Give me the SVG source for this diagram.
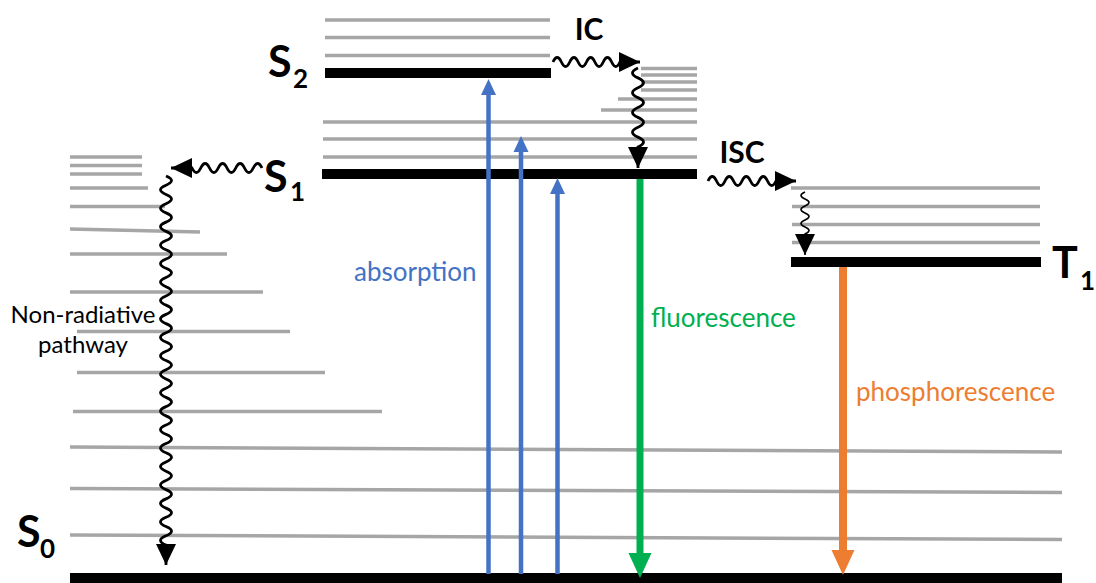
<svg xmlns="http://www.w3.org/2000/svg" width="1096" height="583" viewBox="0 0 1096 583">
  <style>
    .lvl { stroke: #A6A6A6; stroke-width: 3.5; fill: none; }
    .bar { fill: #000; }
    .wave { stroke: #000; stroke-width: 2.8; fill: none; }
    .wave-thin { stroke: #000; stroke-width: 1.6; fill: none; }
    .state { font-family: Lato, "Open Sans", sans-serif; font-weight: bold; fill: #000; }
    .big { font-size: 43px; }
    .sub { font-size: 26px; }
    .proc { font-family: Lato, "Open Sans", sans-serif; font-weight: bold; font-size: 30px; fill: #000; }
    .lab { font-family: Lato, "Open Sans", sans-serif; font-size: 26px; }
    .note { font-family: Lato, "Open Sans", sans-serif; font-size: 24px; fill: #000; text-anchor: middle; }
  </style>
  <defs>
    <!-- black heads for wavy transitions, fixed direction -->
    <marker id="headR" markerUnits="userSpaceOnUse" markerWidth="22" markerHeight="22" viewBox="0 0 22 22" refX="21" refY="11" orient="0">
      <path d="M0,1 L21,11 L0,21 z" fill="#000"/>
    </marker>
    <marker id="headD" markerUnits="userSpaceOnUse" markerWidth="22" markerHeight="22" viewBox="0 0 22 22" refX="21" refY="11" orient="90">
      <path d="M0,1 L21,11 L0,21 z" fill="#000"/>
    </marker>
    <marker id="headL" markerUnits="userSpaceOnUse" markerWidth="22" markerHeight="22" viewBox="0 0 22 22" refX="21" refY="11" orient="180">
      <path d="M0,1 L21,11 L0,21 z" fill="#000"/>
    </marker>
    <!-- heads for radiative transitions -->
    <marker id="headBlue" markerUnits="userSpaceOnUse" markerWidth="16" markerHeight="16" viewBox="0 0 16 16" refX="0" refY="8" orient="auto">
      <path d="M0,0.5 L16,8 L0,15.5 z" fill="#4472C4"/>
    </marker>
    <marker id="headGreen" markerUnits="userSpaceOnUse" markerWidth="25" markerHeight="24" viewBox="0 0 25 24" refX="0" refY="12" orient="auto">
      <path d="M0,0.5 L25,12 L0,23.5 z" fill="#00B050"/>
    </marker>
    <marker id="headOrange" markerUnits="userSpaceOnUse" markerWidth="25" markerHeight="24" viewBox="0 0 25 24" refX="0" refY="12" orient="auto">
      <path d="M0,0.5 L25,12 L0,23.5 z" fill="#ED7D31"/>
    </marker>
  </defs>

  <!-- singlet ground state S0 and its vibrational levels -->
  <g id="S0">
    <line class="lvl" x1="70" y1="157" x2="142" y2="157"/>
    <line class="lvl" x1="70" y1="165.5" x2="142" y2="165.5"/>
    <line class="lvl" x1="70" y1="174" x2="142" y2="174"/>
    <line class="lvl" x1="70" y1="188" x2="148" y2="188"/>
    <line class="lvl" x1="70" y1="206.5" x2="165" y2="206.5"/>
    <line class="lvl" x1="70" y1="229" x2="200" y2="232"/>
    <line class="lvl" x1="70" y1="254" x2="227" y2="254"/>
    <line class="lvl" x1="70" y1="292" x2="263" y2="292"/>
    <line class="lvl" x1="77" y1="331.5" x2="290" y2="331.5"/>
    <line class="lvl" x1="77" y1="372.5" x2="325" y2="372.5"/>
    <line class="lvl" x1="73" y1="411.5" x2="382" y2="411.5"/>
    <line class="lvl" x1="70" y1="447" x2="1062" y2="452"/>
    <line class="lvl" x1="70" y1="488.5" x2="1062" y2="492.5"/>
    <line class="lvl" x1="70" y1="535" x2="1062" y2="539.5"/>
    <rect class="bar" x="70" y="573" width="992" height="10"/>
    <text class="state big" x="17" y="547">S</text>
    <text class="state sub" x="40" y="558">0</text>
  </g>

  <!-- first excited singlet S1 -->
  <g id="S1">
    <line class="lvl" x1="641" y1="68.5" x2="697" y2="68.5"/>
    <line class="lvl" x1="641" y1="75" x2="697" y2="75"/>
    <line class="lvl" x1="641" y1="82" x2="697" y2="82"/>
    <line class="lvl" x1="641" y1="90" x2="697" y2="90"/>
    <line class="lvl" x1="618" y1="99" x2="697" y2="99"/>
    <line class="lvl" x1="601" y1="110" x2="697" y2="110"/>
    <line class="lvl" x1="323" y1="122" x2="697" y2="122"/>
    <line class="lvl" x1="323" y1="139" x2="697" y2="139"/>
    <line class="lvl" x1="323" y1="157" x2="697" y2="157"/>
    <rect class="bar" x="322" y="169" width="375" height="10"/>
    <text class="state big" x="264" y="192">S</text>
    <text class="state sub" x="290" y="201">1</text>
  </g>

  <!-- second excited singlet S2 -->
  <g id="S2">
    <line class="lvl" x1="325" y1="20" x2="550" y2="20"/>
    <line class="lvl" x1="325" y1="37.5" x2="550" y2="37.5"/>
    <line class="lvl" x1="325" y1="55.5" x2="550" y2="55.5"/>
    <rect class="bar" x="325" y="68" width="226" height="10"/>
    <text class="state big" x="268" y="77">S</text>
    <text class="state sub" x="293" y="88">2</text>
  </g>

  <!-- triplet T1 -->
  <g id="T1">
    <line class="lvl" x1="791" y1="188" x2="1040" y2="188"/>
    <line class="lvl" x1="792" y1="206.5" x2="1040" y2="206.5"/>
    <line class="lvl" x1="792" y1="224.5" x2="1040" y2="224.5"/>
    <line class="lvl" x1="792" y1="242.5" x2="1040" y2="242.5"/>
    <rect class="bar" x="791" y="257" width="250" height="10"/>
    <text class="state big" x="1052" y="278">T</text>
    <text class="state sub" x="1080" y="290">1</text>
  </g>

  <!-- transitions -->
  <g id="connectors">
    <!-- absorption -->
    <line x1="488.5" y1="574" x2="488.5" y2="95" stroke="#4472C4" stroke-width="4.5" marker-end="url(#headBlue)"/>
    <line x1="521" y1="574" x2="521" y2="152" stroke="#4472C4" stroke-width="4.5" marker-end="url(#headBlue)"/>
    <line x1="557.5" y1="574" x2="557.5" y2="194" stroke="#4472C4" stroke-width="4.5" marker-end="url(#headBlue)"/>
    <!-- fluorescence -->
    <line x1="640" y1="179" x2="640" y2="553" stroke="#00B050" stroke-width="7" marker-end="url(#headGreen)"/>
    <!-- phosphorescence -->
    <line x1="843" y1="267" x2="843" y2="550" stroke="#ED7D31" stroke-width="8" marker-end="url(#headOrange)"/>

    <!-- internal conversion S2 -> S1 -->
    <path class="wave" marker-end="url(#headR)" d="M553,62 q4.19,-9 8.375,0 t8.375,0 t8.375,0 t8.375,0 t8.375,0 t8.375,0 t8.375,0 t8.375,0 L640,62"/>
    <path class="wave" marker-end="url(#headD)" d="M638,68 q-11,4.94 0,9.875 t0,9.875 t0,9.875 t0,9.875 t0,9.875 t0,9.875 t0,9.875 t0,9.875 L638,168"/>

    <!-- intersystem crossing S1 -> T1 -->
    <path class="wave" marker-end="url(#headR)" d="M708,181 q4.25,-9 8.5,0 t8.5,0 t8.5,0 t8.5,0 t8.5,0 t8.5,0 t8.5,0 t8.5,0 L796,181"/>
    <path class="wave-thin" marker-end="url(#headD)" d="M805,192 q-8,3.5 0,7 t0,7 t0,7 t0,7 t0,7 t0,7 L805,255"/>

    <!-- non-radiative decay S1 -> S0 -->
    <path class="wave" marker-end="url(#headL)" d="M262,168 q-4.375,-9 -8.75,0 t-8.75,0 t-8.75,0 t-8.75,0 t-8.75,0 t-8.75,0 t-8.75,0 t-8.75,0 L171,168"/>
    <path class="wave" marker-end="url(#headD)" d="M166,176 q11,4.6125 0,9.225 t0,9.225 t0,9.225 t0,9.225 t0,9.225 t0,9.225 t0,9.225 t0,9.225 t0,9.225 t0,9.225 t0,9.225 t0,9.225 t0,9.225 t0,9.225 t0,9.225 t0,9.225 t0,9.225 t0,9.225 t0,9.225 t0,9.225 t0,9.225 t0,9.225 t0,9.225 t0,9.225 t0,9.225 t0,9.225 t0,9.225 t0,9.225 t0,9.225 t0,9.225 t0,9.225 t0,9.225 t0,9.225 t0,9.225 t0,9.225 t0,9.225 t0,9.225 t0,9.225 t0,9.225 t0,9.225 L166,565"/>
  </g>

  <!-- process labels -->
  <g id="labels">
    <text class="proc" x="589" y="40" text-anchor="middle">IC</text>
    <text class="proc" x="742" y="163" text-anchor="middle">ISC</text>
    <text class="lab" x="354" y="281" fill="#4472C4">absorption</text>
    <text class="lab" x="651" y="327" fill="#00B050">fluorescence</text>
    <text class="lab" x="856" y="401" fill="#ED7D31">phosphorescence</text>
    <text class="note" x="83" y="323">Non-radiative</text>
    <text class="note" x="83" y="353">pathway</text>
  </g>
</svg>
